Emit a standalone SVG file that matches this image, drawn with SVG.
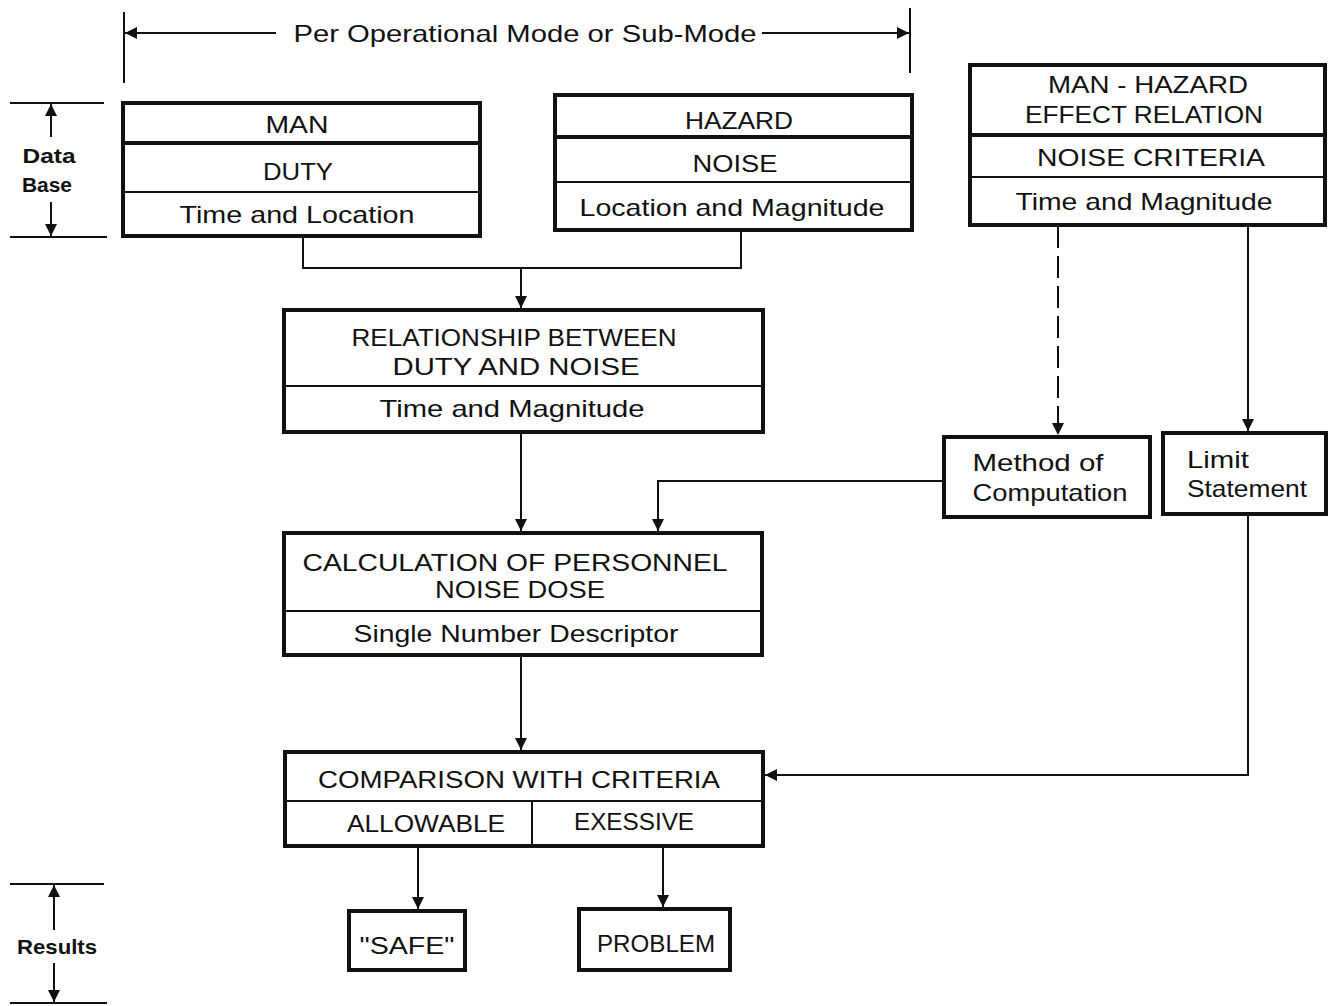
<svg xmlns="http://www.w3.org/2000/svg" width="1331" height="1006" viewBox="0 0 1331 1006">
<style>
text{font-family:"Liberation Sans",Arial,sans-serif;font-size:24px;fill:#111;text-anchor:middle}
.side{font-size:21px;font-weight:bold}
.box{fill:none;stroke:#111;stroke-width:4}
.thick{stroke:#111;stroke-width:4}
.thin{stroke:#111;stroke-width:2}
.ln{fill:none;stroke:#111;stroke-width:2}
.dash{fill:none;stroke:#111;stroke-width:2;stroke-dasharray:22,8}
</style>
<defs>
<marker id="ah" viewBox="0 0 10 10" refX="10" refY="5" markerWidth="12" markerHeight="12" markerUnits="userSpaceOnUse" orient="auto">
<path d="M0,0 L10,5 L0,10 Z" fill="#111"/>
</marker>
</defs>
<rect width="1331" height="1006" fill="#fff"/>

<g id="scope">
<line class="ln" x1="124" y1="12" x2="124" y2="83"/>
<line class="ln" x1="910" y1="8" x2="910" y2="73"/>
<line class="ln" x1="276" y1="33" x2="125" y2="33" marker-end="url(#ah)"/>
<line class="ln" x1="762" y1="33" x2="909" y2="33" marker-end="url(#ah)"/>
<text x="525" y="42" textLength="463" lengthAdjust="spacingAndGlyphs">Per Operational Mode or Sub-Mode</text>
</g>

<g id="database">
<line class="ln" x1="10" y1="103" x2="104" y2="103"/>
<line class="ln" x1="10" y1="237" x2="107" y2="237"/>
<line class="ln" x1="51" y1="137" x2="51" y2="104" marker-end="url(#ah)"/>
<line class="ln" x1="51" y1="202" x2="51" y2="236" marker-end="url(#ah)"/>
<text class="side" x="49" y="163" textLength="53" lengthAdjust="spacingAndGlyphs">Data</text>
<text class="side" x="47" y="192" textLength="50" lengthAdjust="spacingAndGlyphs">Base</text>
</g>

<g id="results-label">
<line class="ln" x1="10" y1="884" x2="104" y2="884"/>
<line class="ln" x1="10" y1="1003" x2="107" y2="1003"/>
<line class="ln" x1="54" y1="930" x2="54" y2="885" marker-end="url(#ah)"/>
<line class="ln" x1="54" y1="963" x2="54" y2="1002" marker-end="url(#ah)"/>
<text class="side" x="57" y="954" textLength="80" lengthAdjust="spacingAndGlyphs">Results</text>
</g>

<g id="man">
<rect class="box" x="123" y="103" width="357" height="133"/>
<line class="thick" x1="123" y1="143" x2="480" y2="143"/>
<line class="thin" x1="123" y1="192" x2="480" y2="192"/>
<text x="297" y="133" textLength="63" lengthAdjust="spacingAndGlyphs">MAN</text>
<text x="298" y="180" textLength="70" lengthAdjust="spacingAndGlyphs">DUTY</text>
<text x="297" y="223" textLength="235" lengthAdjust="spacingAndGlyphs">Time and Location</text>
</g>

<g id="hazard">
<rect class="box" x="555" y="95" width="357" height="135"/>
<line class="thick" x1="555" y1="137" x2="912" y2="137"/>
<line class="thin" x1="555" y1="182" x2="912" y2="182"/>
<text x="739" y="129" textLength="108" lengthAdjust="spacingAndGlyphs">HAZARD</text>
<text x="735" y="172" textLength="85" lengthAdjust="spacingAndGlyphs">NOISE</text>
<text x="732" y="216" textLength="305" lengthAdjust="spacingAndGlyphs">Location and Magnitude</text>
</g>

<g id="man-hazard">
<rect class="box" x="970" y="65" width="355" height="160"/>
<line class="thick" x1="970" y1="135" x2="1325" y2="135"/>
<line class="thin" x1="970" y1="177" x2="1325" y2="177"/>
<text x="1148" y="93" textLength="200" lengthAdjust="spacingAndGlyphs">MAN - HAZARD</text>
<text x="1144" y="123" textLength="238" lengthAdjust="spacingAndGlyphs">EFFECT RELATION</text>
<text x="1151" y="166" textLength="228" lengthAdjust="spacingAndGlyphs">NOISE  CRITERIA</text>
<text x="1144" y="210" textLength="257" lengthAdjust="spacingAndGlyphs">Time and Magnitude</text>
</g>

<g id="relationship">
<rect class="box" x="284" y="310" width="479" height="122"/>
<line class="thin" x1="284" y1="386" x2="763" y2="386"/>
<text x="514" y="346" textLength="325" lengthAdjust="spacingAndGlyphs">RELATIONSHIP BETWEEN</text>
<text x="516" y="375" textLength="247" lengthAdjust="spacingAndGlyphs">DUTY AND NOISE</text>
<text x="512" y="417" textLength="265" lengthAdjust="spacingAndGlyphs">Time and Magnitude</text>
</g>

<g id="method">
<rect class="box" x="944" y="437" width="206" height="80"/>
<text x="1038" y="471" textLength="131" lengthAdjust="spacingAndGlyphs">Method of</text>
<text x="1050" y="501" textLength="155" lengthAdjust="spacingAndGlyphs">Computation</text>
</g>

<g id="limit">
<rect class="box" x="1163" y="433" width="163" height="81"/>
<text x="1218" y="468" textLength="62" lengthAdjust="spacingAndGlyphs">Limit</text>
<text x="1247" y="497" textLength="120" lengthAdjust="spacingAndGlyphs">Statement</text>
</g>

<g id="calculation">
<rect class="box" x="284" y="533" width="478" height="122"/>
<line class="thin" x1="284" y1="611" x2="762" y2="611"/>
<text x="515" y="571" textLength="425" lengthAdjust="spacingAndGlyphs">CALCULATION OF PERSONNEL</text>
<text x="520" y="598" textLength="170" lengthAdjust="spacingAndGlyphs">NOISE DOSE</text>
<text x="516" y="642" textLength="325" lengthAdjust="spacingAndGlyphs">Single Number Descriptor</text>
</g>

<g id="comparison">
<rect class="box" x="285" y="752" width="478" height="94"/>
<line class="thin" x1="285" y1="801" x2="763" y2="801"/>
<line class="thin" x1="532" y1="801" x2="532" y2="846"/>
<text x="519" y="788" textLength="402" lengthAdjust="spacingAndGlyphs">COMPARISON WITH CRITERIA</text>
<text x="426" y="832" textLength="158" lengthAdjust="spacingAndGlyphs">ALLOWABLE</text>
<text x="634" y="830" textLength="120" lengthAdjust="spacingAndGlyphs">EXESSIVE</text>
</g>

<g id="safe">
<rect class="box" x="349" y="911" width="116" height="59"/>
<text x="407" y="954" textLength="95" lengthAdjust="spacingAndGlyphs">"SAFE"</text>
</g>

<g id="problem">
<rect class="box" x="579" y="909" width="151" height="61"/>
<text x="656" y="952" textLength="118" lengthAdjust="spacingAndGlyphs">PROBLEM</text>
</g>

<g id="connectors">
<polyline class="ln" points="303,237 303,268 741,268 741,231"/>
<line class="ln" x1="521" y1="268" x2="521" y2="308" marker-end="url(#ah)"/>
<line class="ln" x1="521" y1="433" x2="521" y2="531" marker-end="url(#ah)"/>
<line class="dash" x1="1058" y1="226" x2="1058" y2="435" marker-end="url(#ah)"/>
<line class="ln" x1="1248" y1="226" x2="1248" y2="431" marker-end="url(#ah)"/>
<polyline class="ln" points="942,481 658,481 658,531" marker-end="url(#ah)"/>
<line class="ln" x1="521" y1="656" x2="521" y2="750" marker-end="url(#ah)"/>
<polyline class="ln" points="1248,515 1248,775 765,775" marker-end="url(#ah)"/>
<line class="ln" x1="418" y1="847" x2="418" y2="909" marker-end="url(#ah)"/>
<line class="ln" x1="663" y1="847" x2="663" y2="907" marker-end="url(#ah)"/>
</g>
</svg>
